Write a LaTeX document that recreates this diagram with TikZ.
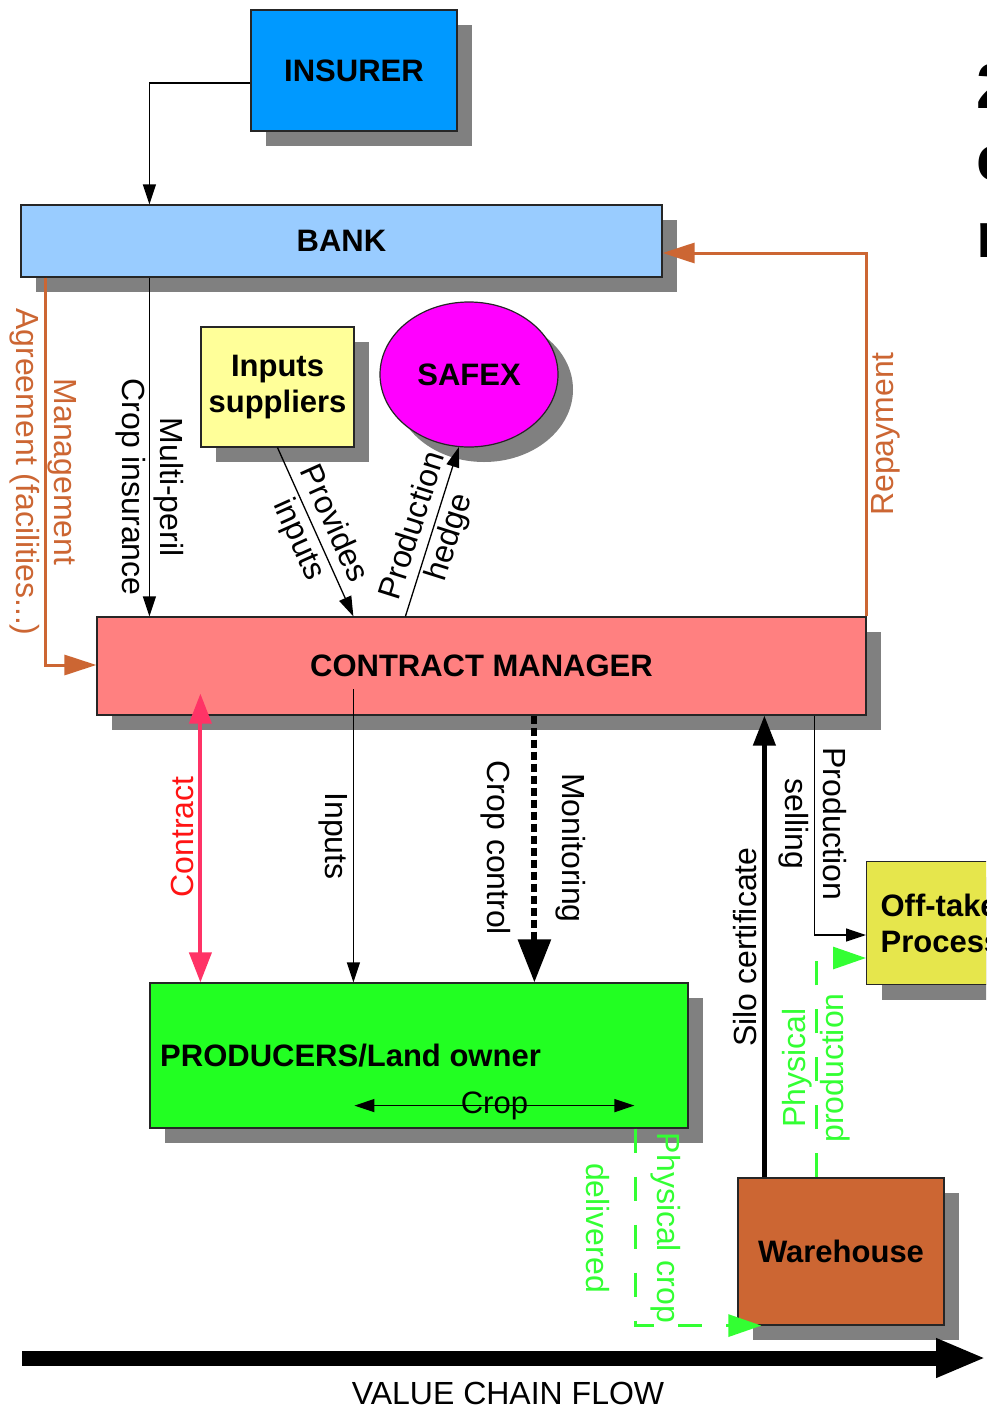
\documentclass[tikz,border=0pt]{standalone}
\usepackage{fontspec}
\setmainfont{Liberation Sans}
\usetikzlibrary{arrows.meta,shapes.geometric,shadows,calc}
\definecolor{insurerblue}{RGB}{0,153,255}
\definecolor{bankblue}{RGB}{153,204,255}
\definecolor{suppyellow}{RGB}{255,255,153}
\definecolor{safexmag}{RGB}{255,0,255}
\definecolor{cmpink}{RGB}{255,128,128}
\definecolor{prodgreen}{RGB}{34,255,34}
\definecolor{offyellow}{RGB}{230,230,76}
\definecolor{whbrown}{RGB}{204,102,51}
\definecolor{orangeline}{RGB}{204,102,51}
\definecolor{contractpink}{RGB}{255,51,102}
\definecolor{contractred}{RGB}{255,20,20}
\definecolor{flowgreen}{RGB}{51,255,51}
\definecolor{shadowgray}{RGB}{128,128,128}
\begin{document}
\begin{tikzpicture}[x=1pt,y=-1pt,
  every node/.style={font=\fontsize{31}{36}\selectfont},
  box/.style={draw=black!85, line width=1.2pt, inner sep=0pt,
    font=\fontsize{31}{36}\selectfont\bfseries,
    drop shadow={shadow xshift=15pt, shadow yshift=-15pt, fill=shadowgray, opacity=1}},
  lbl/.style={font=\fontsize{32}{38}\selectfont, align=center, inner sep=0pt},
  thinarrow/.style={draw=black, line width=1.3pt, -{Triangle[length=20pt,width=13pt]}},
  orangearrow/.style={draw=orangeline, line width=3pt, -{Triangle[length=32pt,width=20pt]}},
  greenarrow/.style={draw=flowgreen, line width=3pt, dash pattern=on 24pt off 24pt, -{Triangle[length=33pt,width=22pt]}},
]
\useasboundingbox (0,0) rectangle (986,1408);
\clip (0,0) rectangle (986,1408);

% boxes
\node[box, fill=insurerblue, minimum width=206pt, minimum height=121pt] (ins) at (354,70.5) {INSURER};
\node[box, fill=bankblue, minimum width=641pt, minimum height=72pt] (bank) at (341.5,241) {BANK};
\node[box, fill=suppyellow, minimum width=153pt, minimum height=120pt, align=center] (sup) at (277.5,387) {Inputs\\suppliers};
\node[box, ellipse, fill=safexmag, minimum width=178pt, minimum height=145pt] (safex) at (469,374.5) {SAFEX};
\node[box, fill=cmpink, minimum width=769pt, minimum height=98pt] (cm) at (481.5,666) {CONTRACT MANAGER};
\node[box, fill=prodgreen, minimum width=538pt, minimum height=145pt] (prod) at (419,1055.5) {};
\node[anchor=west, inner sep=0pt, font=\fontsize{31}{36}\selectfont\bfseries] (prodlbl) at (160,1056) {PRODUCERS/Land owner};
\node[box, fill=offyellow, minimum width=200pt, minimum height=123pt, anchor=north west, align=left, text width=172pt] (off) at (866,861) {Off-taker\\Processor};
\node[box, fill=whbrown, minimum width=206pt, minimum height=147pt] (wh) at (841,1251.5) {Warehouse};

% cut-off title fragments
\node[anchor=base west, inner sep=0pt, font=\fontsize{64}{70}\selectfont\bfseries] (t1) at (976,108) {2};
\node[anchor=base west, inner sep=0pt, font=\fontsize{64}{70}\selectfont\bfseries] (t2) at (976,180) {c};
\node[anchor=base west, inner sep=0pt, font=\fontsize{64}{70}\selectfont\bfseries] (t3) at (976,257) {r};

% insurer -> bank
\draw[thinarrow] ($(ins.west)+(0,12.5)$) -| ($(bank.north west)+(129,0)$);
% bank -> cm multi-peril
\draw[thinarrow] ($(bank.south west)+(129,0)$) -- ($(cm.north west)+(53,0)$);
\node[lbl, rotate=-90] (mplbl) at (150,487) {Multi-peril\\Crop insurance};
% management agreement
\draw[orangearrow] ($(bank.south west)+(25,0)$) |- ($(cm.west)+(0,-1)$);
\node[lbl, rotate=-90, text=orangeline] (malbl) at (43,472) {Management\\Agreement (facilities...)};
% repayment
\draw[orangearrow] (cm.north east) |- ($(bank.east)+(0,12)$);
\node[lbl, rotate=90, text=orangeline] (replbl) at (886,434) {Repayment};
% provides inputs
\draw[thinarrow] (sup.south) -- node[midway, sloped, lbl] {Provides\\inputs} ($(cm.north west)+(257,0)$);
% production hedge
\draw[thinarrow] ($(cm.north west)+(309,0)$) -- node[midway, sloped, lbl] {Production\\hedge} (safex.-98);
% contract
\draw[draw=contractpink, line width=4pt, {Triangle[length=30pt,width=22pt]}-{Triangle[length=30pt,width=22pt]}] ($(cm.south west)+(104,-22)$) -- ($(prod.north west)+(51,0)$);
\node[lbl, rotate=90, text=contractred] (conlbl) at (182,837) {Contract};
% inputs
\draw[thinarrow] ($(cm.north west)+(257,73)$) -- ($(prod.north west)+(204,0)$);
\node[lbl, rotate=-90] (inlbl) at (333,836) {Inputs};
% monitoring
\draw[draw=black, line width=6pt, dash pattern=on 8pt off 4pt, -{Triangle[length=43pt,width=32pt]}] ($(cm.south west)+(438,0)$) -- ($(prod.north west)+(385,0)$);
\node[lbl, rotate=-90] (monlbl) at (533,848) {Monitoring\\[37pt]Crop control};
% silo certificate
\draw[draw=black, line width=4.5pt, -{Triangle[length=30pt,width=22pt]}] ($(wh.north west)+(27,0)$) -- ($(cm.south west)+(668,0)$);
\node[lbl, rotate=90] (silolbl) at (745,947) {Silo certificate};
% production selling
\draw[thinarrow] ($(cm.south west)+(718,0)$) |- ($(off.north west)+(0,74)$);
\node[lbl, rotate=-90] (pslbl) at (813,824) {Production\\selling};
% physical production
\draw[greenarrow] ($(wh.north west)+(79,0)$) |- ($(off.north west)+(0,97)$);
\node[lbl, rotate=90, text=flowgreen] (pplbl) at (816,1068) {Physical\\production};
% physical crop delivered
\draw[greenarrow] ($(prod.south west)+(486,0)$) |- ($(wh.south west)+(24,0)$);
\node[lbl, rotate=-90, text=flowgreen] (pclbl) at (633,1228) {Physical crop\\[33pt]delivered};
% crop
\draw[thinarrow, {Triangle[length=20pt,width=13pt]}-{Triangle[length=20pt,width=13pt]}] ($(prod.south west)+(205,-23)$) -- node[midway, inner sep=0pt, font=\fontsize{31}{36}\selectfont] (croplbl) {Crop} ($(prod.south west)+(485,-23)$);
% value chain flow
\coordinate (vl) at (22,1358);
\coordinate (vr) at (986,1358);
\draw[draw=black, line width=15pt, -{Triangle[length=50pt,width=36pt]}] (vl) -- (vr);
\node[inner sep=0pt, font=\fontsize{32}{36}\selectfont] (vcf) at (508,1393) {VALUE CHAIN FLOW};
\end{tikzpicture}
\end{document}
